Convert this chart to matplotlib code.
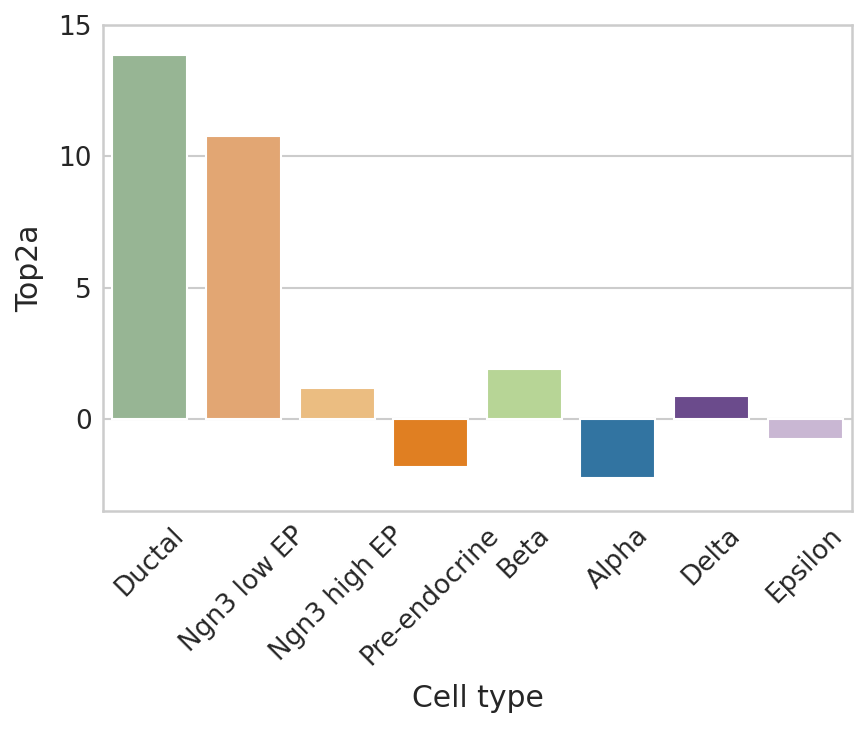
import numpy as np
import matplotlib
matplotlib.use("Agg")
import matplotlib.pyplot as plt
import seaborn as sns

# Top2a expression per cell type
cell_types = ["Ductal", "Ngn3 low EP", "Ngn3 high EP", "Pre-endocrine",
              "Beta", "Alpha", "Delta", "Epsilon"]
top2a = [13.85, 10.76, 1.2, -1.83, 1.92, -2.23, 0.86, -0.76]
bar_colors = ["#97b594", "#e2a673", "#ebbd81", "#e07f22",
              "#b7d596", "#3274a1", "#6b4b8c", "#c9b7d3"]

sns.set_style("whitegrid")
plt.rcParams['font.family'] = ['DejaVu Sans']

fig = plt.figure(figsize=(8.67, 7.29), dpi=100)
ax = fig.add_axes([0.1188, 0.299, 0.8639, 0.6667])

x = np.arange(len(cell_types))
ax.bar(x, top2a, width=0.8, color=bar_colors, edgecolor="white",
       linewidth=1.5, zorder=2)

ax.set_xlim(-0.5, len(cell_types) - 0.5)
ax.set_ylim(-3.5, 15)
ax.set_yticks([0, 5, 10, 15])
ax.set_xticks(x)
ax.set_xticklabels(cell_types, rotation=45, ha="center")
ax.xaxis.grid(False)
ax.yaxis.grid(True, color="#cccccc", linewidth=1.5)
ax.set_axisbelow(True)

for s in ax.spines.values():
    s.set_color("#cccccc")
    s.set_linewidth(1.8)

ax.tick_params(axis="both", labelsize=19, colors="#262626", length=0, pad=8)
ax.set_xlabel("Cell type", fontsize=21.5, color="#262626", labelpad=10)
ax.set_ylabel("Top2a", fontsize=21.5, color="#262626", labelpad=10)

fig.savefig("out.png", dpi=100)
